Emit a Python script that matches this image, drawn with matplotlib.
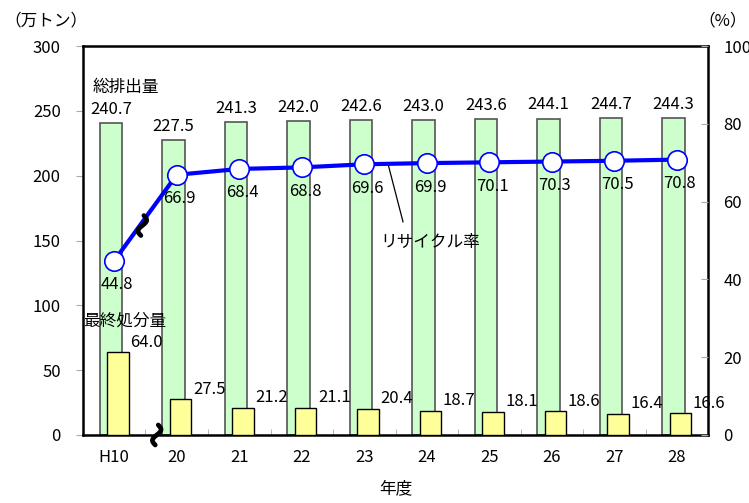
import numpy as np
import matplotlib.pyplot as plt

plt.rcParams['font.family'] = ['Noto Sans CJK JP', 'DejaVu Sans']

# data
years = ['H10', '20', '21', '22', '23', '24', '25', '26', '27', '28']
total = [240.7, 227.5, 241.3, 242.0, 242.6, 243.0, 243.6, 244.1, 244.7, 244.3]
final = [64.0, 27.5, 21.2, 21.1, 20.4, 18.7, 18.1, 18.6, 16.4, 16.6]
recycle = [44.8, 66.9, 68.4, 68.8, 69.6, 69.9, 70.1, 70.3, 70.5, 70.8]

x = np.arange(len(years))
fs = 12

fig = plt.figure(figsize=(7.49, 5.03), dpi=100)
ax = fig.add_axes([0.1108, 0.1352, 0.8345, 0.7733])
ax2 = ax.twinx()

ax.bar(x - 0.05, total, width=0.36, color='#ccffcc', edgecolor='#555555', linewidth=1.2, zorder=2)
ax.bar(x + 0.06, final, width=0.34, color='#ffff99', edgecolor='black', linewidth=1.0, zorder=3)

ax.set_xlim(-0.5, len(years) - 0.5)
ax.set_ylim(0, 300)
ax.set_yticks(np.arange(0, 301, 50))
ax.set_xticks(x)
ax.set_xticklabels(years)
ax.set_xticks(np.arange(-0.5, len(years), 1), minor=True)
ax.tick_params(axis='x', which='major', length=0, pad=10, labelsize=fs)
ax.tick_params(axis='x', which='minor', length=4, direction='in', color='#aaaaaa')
ax.tick_params(axis='y', length=5, color='#aaaaaa', labelsize=fs, pad=11)
for s in ax.spines.values():
    s.set_linewidth(1.8)

ax2.set_ylim(0, 100)
ax2.set_yticks(np.arange(0, 101, 20))
ax2.tick_params(axis='y', length=5, direction='in', color='#aaaaaa', labelsize=fs, pad=11)
ax2.plot(x, recycle, color='blue', linewidth=3, marker='o', markersize=14,
         markerfacecolor='white', markeredgecolor='blue', markeredgewidth=1.2, zorder=5)
for s in ax2.spines.values():
    s.set_visible(False)

# value labels
for i in range(len(years)):
    ax.text(x[i] - 0.05, total[i] + 4, f'{total[i]:.1f}', ha='center', va='bottom', fontsize=fs, zorder=6)
    ax.text(x[i] + 0.52, final[i] + 1, f'{final[i]:.1f}', ha='center', va='bottom', fontsize=fs, zorder=6)
    ax2.text(x[i] + 0.05, recycle[i] - 4, f'{recycle[i]:.1f}', ha='center', va='top', fontsize=fs, zorder=6)

ax.text(x[0] + 0.18, 268, '総排出量', ha='center', va='center', fontsize=fs)
ax.text(x[0] + 0.17, 88, '最終処分量', ha='center', va='center', fontsize=fs)
ax2.plot([4.38, 4.62], [69.7, 54.8], color='black', lw=0.9, zorder=4)
ax2.text(5.05, 49.6, 'リサイクル率', ha='center', va='center', fontsize=fs)

ax.set_xlabel('年度', fontsize=fs, labelpad=10)
fig.text(0.006, 0.958, '（万トン）', ha='left', va='center', fontsize=fs)
fig.text(0.997, 0.958, '（%）', ha='right', va='center', fontsize=fs)


# break marks
def squiggle(axis, xd, yd):
    t = np.linspace(0, 1, 40)
    dx = 3.5 * np.sin(2 * np.pi * t) - 3 * (t - 0.5)
    dy = (0.5 - t) * 20
    base = axis.transData.transform((xd, yd))
    pts = np.column_stack([base[0] + dx, base[1] + dy])
    d = axis.transData.inverted().transform(pts)
    axis.plot(d[:, 0], d[:, 1], color='black', lw=3.4, zorder=7, clip_on=False, solid_capstyle='round')


fig.canvas.draw()
squiggle(ax2, 0.45, (recycle[0] + recycle[1]) / 2 - 2)
squiggle(ax, 0.68, 0)

fig.savefig('out.png', dpi=100)
